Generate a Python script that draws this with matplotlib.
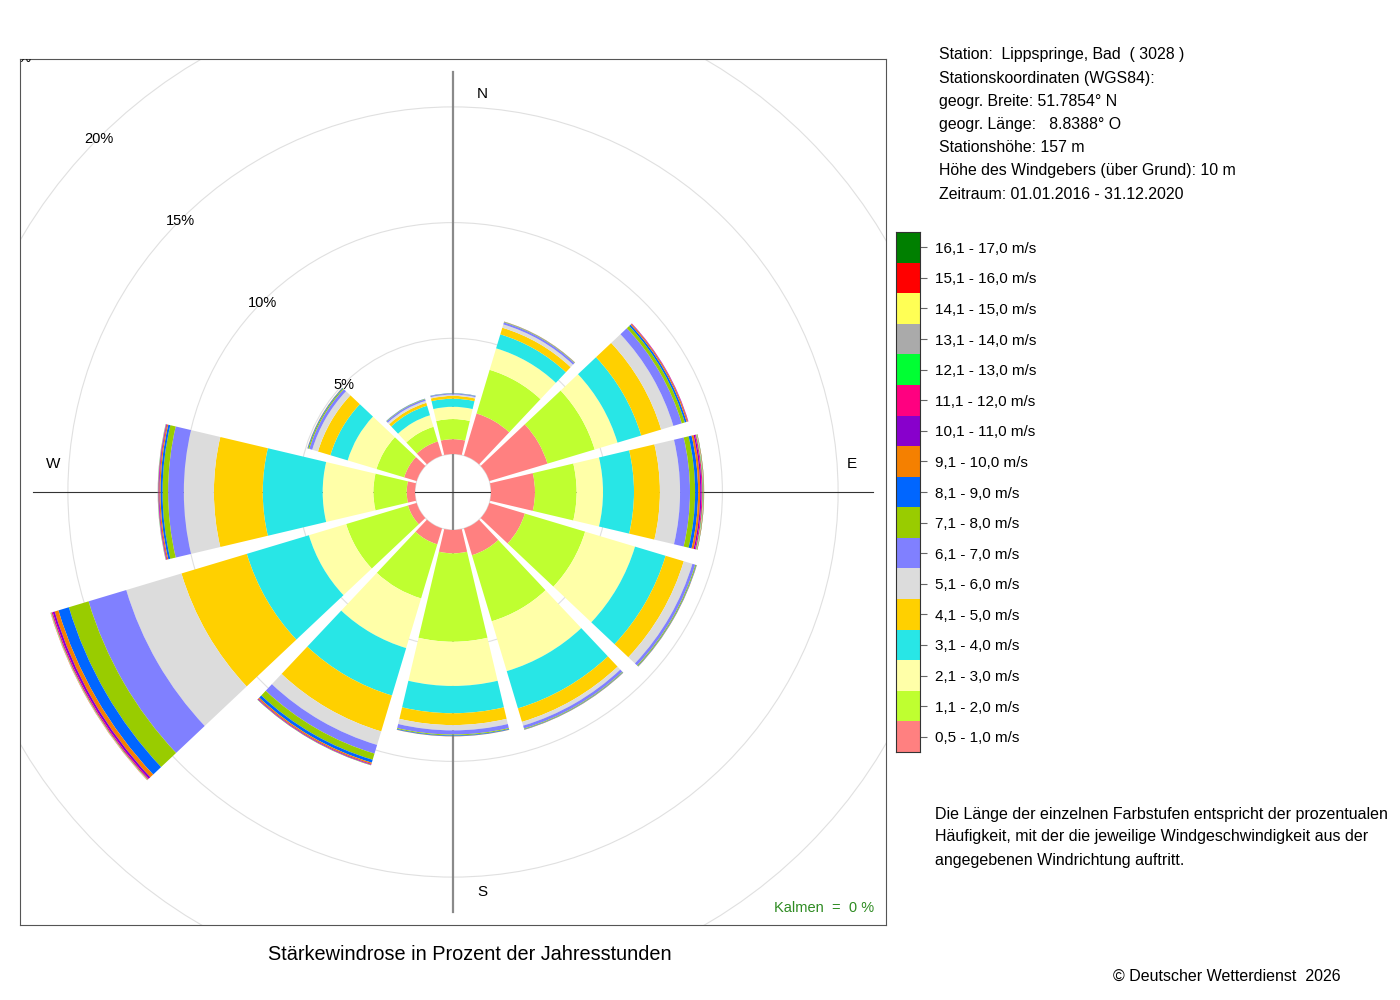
import matplotlib
matplotlib.use("Agg")
import matplotlib.pyplot as plt
from matplotlib.patches import Wedge, Circle, Rectangle
import numpy as np

plt.rcParams['font.family'] = ['Liberation Sans', 'DejaVu Sans']

# ---------------- data ----------------
directions = [0, 30, 60, 90, 120, 150, 180, 210, 240, 270, 300, 330]   # degrees (compass)

class_labels = ["0,5 - 1,0 m/s", "1,1 - 2,0 m/s", "2,1 - 3,0 m/s", "3,1 - 4,0 m/s",
                "4,1 - 5,0 m/s", "5,1 - 6,0 m/s", "6,1 - 7,0 m/s", "7,1 - 8,0 m/s",
                "8,1 - 9,0 m/s", "9,1 - 10,0 m/s", "10,1 - 11,0 m/s", "11,1 - 12,0 m/s",
                "12,1 - 13,0 m/s", "13,1 - 14,0 m/s", "14,1 - 15,0 m/s", "15,1 - 16,0 m/s",
                "16,1 - 17,0 m/s"]

class_colors = ['#FF8080', '#BFFF30', '#FFFFA8', '#28E6E6', '#FFD000', '#DCDCDC',
                '#8080FF', '#99CC00', '#0066FF', '#F58000', '#8800CC', '#FF0080',
                '#00FF33', '#AAAAAA', '#FFFF55', '#FF0000', '#007F00']

# frequency (% of hours) per speed class, one list per direction sector
freq_000 = [0.64, 0.87, 0.53, 0.35, 0.12, 0.06, 0.04, 0.01, 0.01, 0, 0, 0, 0, 0, 0, 0, 0]
freq_030 = [1.90, 1.97, 0.97, 0.63, 0.30, 0.15, 0.09, 0.02, 0.01, 0.01, 0, 0, 0, 0, 0, 0, 0]
freq_060 = [2.62, 2.13, 1.03, 1.07, 0.90, 0.55, 0.38, 0.14, 0.08, 0.05, 0.02, 0.01, 0, 0, 0, 0, 0]
freq_090 = [1.90, 1.80, 1.14, 1.34, 1.12, 0.87, 0.43, 0.22, 0.13, 0.09, 0.06, 0.04, 0.02, 0.02, 0.01, 0.01, 0.01]
freq_120 = [1.60, 2.72, 2.25, 1.38, 0.82, 0.39, 0.13, 0.04, 0.02, 0.01, 0, 0, 0, 0, 0, 0, 0]
freq_150 = [1.21, 2.98, 2.25, 1.68, 0.61, 0.17, 0.13, 0.03, 0.02, 0.01, 0, 0, 0, 0, 0, 0, 0]
freq_180 = [1.01, 3.82, 1.91, 1.18, 0.51, 0.23, 0.18, 0.04, 0.03, 0.01, 0, 0, 0, 0, 0, 0, 0]
freq_210 = [0.72, 2.44, 2.24, 2.14, 1.62, 0.61, 0.39, 0.28, 0.13, 0.06, 0.03, 0.02, 0.01, 0, 0, 0, 0]
freq_240 = [0.39, 2.79, 1.68, 2.80, 2.95, 2.49, 1.70, 0.89, 0.47, 0.17, 0.09, 0.05, 0.02, 0.01, 0.01, 0.01, 0]
freq_270 = [0.36, 1.44, 2.19, 2.59, 2.11, 1.30, 0.68, 0.24, 0.09, 0.05, 0.03, 0.02, 0.01, 0.01, 0, 0, 0]
freq_300 = [0.56, 1.25, 1.30, 0.78, 0.56, 0.26, 0.13, 0.05, 0.03, 0.01, 0, 0, 0, 0, 0, 0, 0]
freq_330 = [0.64, 0.66, 0.52, 0.43, 0.13, 0.09, 0.07, 0.02, 0.01, 0, 0, 0, 0, 0, 0, 0, 0]

grid_levels = [5, 10, 15, 20, 25]
calm_percent = 0

station_lines = ["Station:  Lippspringe, Bad  ( 3028 )",
                 "Stationskoordinaten (WGS84):",
                 "geogr. Breite: 51.7854° N",
                 "geogr. Länge:   8.8388° O",
                 "Stationshöhe: 157 m",
                 "Höhe des Windgebers (über Grund): 10 m",
                 "Zeitraum: 01.01.2016 - 31.12.2020"]

note_lines = ["Die Länge der einzelnen Farbstufen entspricht der prozentualen",
              "Häufigkeit, mit der die jeweilige Windgeschwindigkeit aus der",
              "angegebenen Windrichtung auftritt."]

title = "Stärkewindrose in Prozent der Jahresstunden"
copyright_text = "© Deutscher Wetterdienst  2026"

# ---------------- layout constants ----------------
W, H = 1400, 1000
PX_PER_PCT = 23.14      # radial scale (pixels per percent)
HOLE = 38.0             # radius of centre hole (pixels)
HALF_WIDTH = 13.3       # half angular width of each sector (deg)

freqs = np.array([freq_000, freq_030, freq_060, freq_090, freq_120, freq_150,
                  freq_180, freq_210, freq_240, freq_270, freq_300, freq_330])

def rad(p):
    return HOLE + PX_PER_PCT * p

fig = plt.figure(figsize=(W / 100, H / 100), dpi=100)
ax = fig.add_axes([20 / W, 75 / H, 866 / W, 866 / H])
ax.set_xlim(-433, 433)
ax.set_ylim(-433, 433)
ax.set_aspect('equal')
ax.set_xticks([])
ax.set_yticks([])
for s in ax.spines.values():
    s.set_color('#555555')
    s.set_linewidth(0.8)

# grid circles
ax.add_patch(Circle((0, 0), HOLE, fill=False, ec='#DDDDDD', lw=0.8, zorder=1))
for g in grid_levels:
    ax.add_patch(Circle((0, 0), rad(g), fill=False, ec='#E0E0E0', lw=0.8, zorder=1))

# axis cross
ax.plot([0, 0], [-420, 420], color='#8A8A8A', lw=1.6, zorder=2)
ax.plot([-420, 420], [0, 0], color='#333333', lw=0.8, zorder=2)

# sectors
for d, fr in zip(directions, freqs):
    cum = np.concatenate([[0], np.cumsum(fr)])
    t1 = 90 - d - HALF_WIDTH
    t2 = 90 - d + HALF_WIDTH
    for k in range(len(fr)):
        if fr[k] <= 0:
            continue
        r_in, r_out = rad(cum[k]), rad(cum[k + 1])
        ax.add_patch(Wedge((0, 0), r_out, t1, t2, width=r_out - r_in,
                           facecolor=class_colors[k], edgecolor='none', lw=0, zorder=3))

# percent labels along NW
for g in grid_levels:
    r = rad(g)
    ax.text(-r * np.sin(np.pi / 4), r * np.cos(np.pi / 4) - 1.5, f"{g}%", ha='center', va='center',
            fontsize=10.5, color='black', zorder=5, clip_on=True)

# direction labels
ax.text(29, 398, "N", ha='center', va='center', fontsize=11)
ax.text(399, 28, "E", ha='center', va='center', fontsize=11)
ax.text(29, -400, "S", ha='center', va='center', fontsize=11)
ax.text(-400, 28, "W", ha='center', va='center', fontsize=11)

ax.text(421, -416, f"Kalmen  =  {calm_percent} %", ha='right', va='center', fontsize=10.5,
        color='#2E8B22')

# title & copyright
fig.text(470 / W, 1 - 954 / H, title, ha='center', va='center', fontsize=14.3)
fig.text(1341 / W, 1 - 976 / H, copyright_text, ha='right', va='center', fontsize=11.5)

# station info
for i, line in enumerate(station_lines):
    fig.text(939 / W, 1 - (55 + 23.2 * i) / H, line, ha='left', va='center', fontsize=11.4)

# note
for i, line in enumerate(note_lines):
    fig.text(935 / W, 1 - (814 + 23 * i) / H, line, ha='left', va='center', fontsize=11.5)

# colour legend
cax = fig.add_axes([896 / W, 1 - 752 / H, 24 / W, 520 / H])
n = len(class_colors)
for i, c in enumerate(class_colors):
    cax.add_patch(Rectangle((0, i), 1, 1, facecolor=c, edgecolor='none'))
cax.set_xlim(0, 1)
cax.set_ylim(0, n)
cax.set_xticks([])
cax.yaxis.tick_right()
cax.set_yticks(np.arange(n) + 0.5)
cax.set_yticklabels(class_labels, fontsize=11)
cax.tick_params(axis='y', length=5, width=0.8, color='#666666', pad=6)
for s in cax.spines.values():
    s.set_color('#333333')
    s.set_linewidth(0.8)

fig.savefig("out.png", dpi=100)
